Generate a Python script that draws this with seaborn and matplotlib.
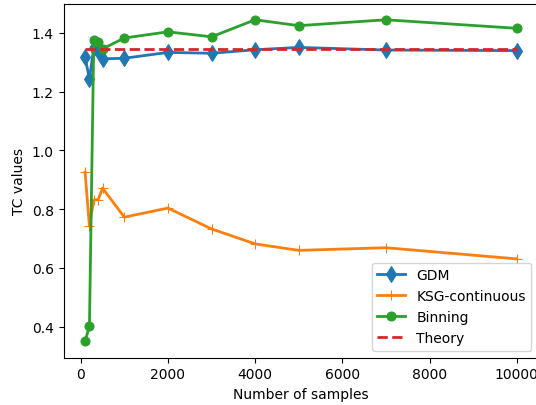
import matplotlib
matplotlib.use("Agg")
import matplotlib.pyplot as plt
import seaborn as sns
import pandas as pd

samples = [100, 200, 300, 400, 500, 1000, 2000, 3000, 4000, 5000, 7000, 10000]
gdm = [1.317, 1.244, 1.350, 1.340, 1.312, 1.314, 1.334, 1.331, 1.343, 1.351, 1.342, 1.340]
ksg = [0.926, 0.742, 0.832, 0.832, 0.872, 0.773, 0.804, 0.733, 0.682, 0.660, 0.669, 0.631]
binning = [0.350, 0.402, 1.377, 1.370, 1.346, 1.383, 1.404, 1.387, 1.445, 1.425, 1.445, 1.416]
theory = [1.346] * len(samples)

fig = plt.figure(figsize=(5.36, 4.06), dpi=100)
ax = fig.add_axes([63.5 / 536, (406 - 358.5) / 406, (538.3 - 63.5) / 536, (358.5 - 4.7) / 406])

sns.lineplot(x=samples, y=gdm, ax=ax, color="C0", marker="d", markersize=8,
             markeredgecolor="C0", label="GDM", linewidth=2)
sns.lineplot(x=samples, y=ksg, ax=ax, color="C1", marker="+", markersize=7,
             markeredgecolor="C1", label="KSG-continuous", linewidth=2)
sns.lineplot(x=samples, y=binning, ax=ax, color="C2", marker="o", markersize=6.5,
             markeredgecolor="C2", label="Binning", linewidth=2)
sns.lineplot(x=samples, y=theory, ax=ax, color="C3", linestyle="--",
             label="Theory", linewidth=2)

ax.set_xlabel("Number of samples", fontsize=10)
ax.set_ylabel("TC values", fontsize=10)
ax.tick_params(labelsize=10)
ax.legend(loc="lower right", fontsize=10)

fig.savefig("out.png", dpi=100)
